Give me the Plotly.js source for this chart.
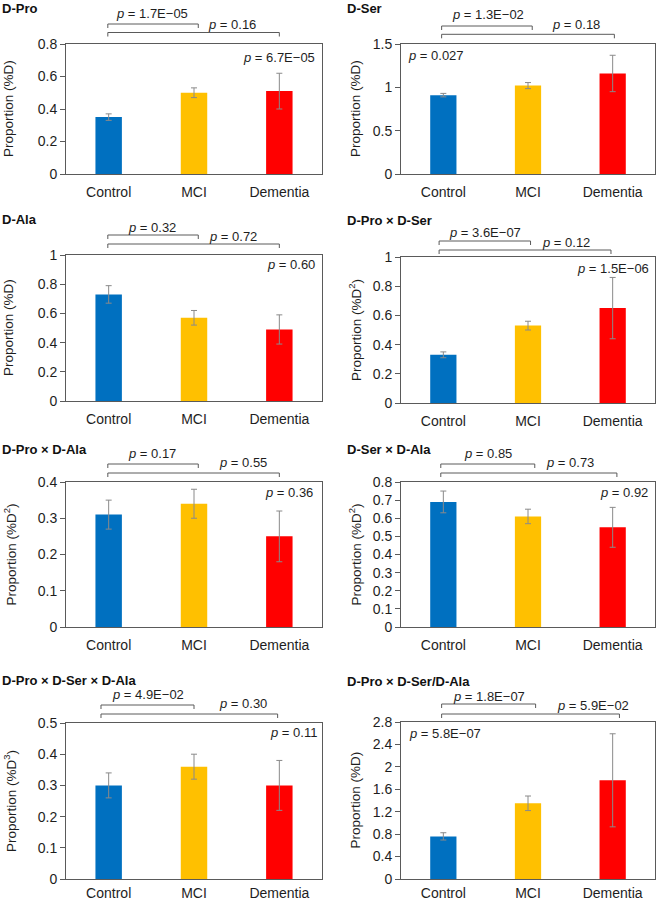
<!DOCTYPE html>
<html><head><meta charset="utf-8">
<script src="https://cdn.plot.ly/plotly-3.0.1.min.js"></script>
<style>html,body{margin:0;padding:0;background:#fff}#chart{width:658px;height:902px}</style>
</head><body><div id="chart"></div>
<script>
// ---------- data ----------
const categories = ['Control', 'MCI', 'Dementia'];
const panelNames = ['D-Pro', 'D-Ser', 'D-Ala', 'D-Pro × D-Ser', 'D-Pro × D-Ala', 'D-Ser × D-Ala', 'D-Pro × D-Ser × D-Ala', 'D-Pro × D-Ser/D-Ala'];
const yLabels = ['Proportion (%D)', 'Proportion (%D)', 'Proportion (%D)', 'Proportion (%D<sup>2</sup>)',
                 'Proportion (%D<sup>2</sup>)', 'Proportion (%D<sup>2</sup>)', 'Proportion (%D<sup>3</sup>)', 'Proportion (%D)'];

const dPro = [0.35, 0.50, 0.51];            const dProErr = [0.02, 0.03, 0.11];
const dSer = [0.91, 1.02, 1.16];            const dSerErr = [0.02, 0.035, 0.21];
const dAla = [0.73, 0.57, 0.49];            const dAlaErr = [0.06, 0.05, 0.10];
const proSer = [0.33, 0.53, 0.65];          const proSerErr = [0.02, 0.03, 0.21];
const proAla = [0.31, 0.34, 0.25];          const proAlaErr = [0.04, 0.04, 0.07];
const serAla = [0.69, 0.61, 0.55];          const serAlaErr = [0.06, 0.04, 0.11];
const proSerAla = [0.30, 0.36, 0.30];       const proSerAlaErr = [0.04, 0.04, 0.08];
const proSerDivAla = [0.76, 1.35, 1.76];    const proSerDivAlaErr = [0.065, 0.13, 0.83];

const pControlMci      = ['1.7E−05', '1.3E−02', '0.32', '3.6E−07', '0.17', '0.85', '4.9E−02', '1.8E−07'];
const pControlDementia = ['0.16', '0.18', '0.72', '0.12', '0.55', '0.73', '0.30', '5.9E−02'];
const pOverall         = ['6.7E−05', '0.027', '0.60', '1.5E−06', '0.36', '0.92', '0.11', '5.8E−07'];

const seriesMeans = [dPro, dSer, dAla, proSer, proAla, serAla, proSerAla, proSerDivAla];
const seriesErrs  = [dProErr, dSerErr, dAlaErr, proSerErr, proAlaErr, serAlaErr, proSerAlaErr, proSerDivAlaErr];

// ---------- layout / style ----------
const W = 658, H = 902;
const FONT = 'Liberation Sans, Arial, sans-serif';
const TXT = '#1e1e1e';
const LINE = '#5a5a5a';
const barColors = ['#0070C0', '#FFC000', '#FF0000'];
const axisRange = [[0, 0.8, 0.2], [0, 1.5, 0.5], [0, 1, 0.2], [0, 1, 0.2], [0, 0.4, 0.1], [0, 0.8, 0.1], [0, 0.5, 0.1], [0, 2.8, 0.4]];
const boxes = [
  {l: 66, r: 322, t: 44, b: 174},  {l: 401, r: 655, t: 44, b: 174},
  {l: 66, r: 322, t: 255, b: 401}, {l: 401, r: 655, t: 257, b: 403},
  {l: 66, r: 322, t: 482, b: 627}, {l: 401, r: 655, t: 482, b: 627},
  {l: 66, r: 322, t: 723, b: 879}, {l: 401, r: 655, t: 722, b: 879}];
const labelStandoff = [5, 5, 5, 5, 5, 5, 1, 1];
const titlePos = [[0, 8], [345, 8], [0, 219], [345, 220], [0, 449], [345, 449], [0, 680], [345, 681]];
const yTitleX = [8, 355, 8, 355, 10, 355, 10, 355];
// bracket geometry: short [x0,x1,dy], long [x0,x1,dy], t1 [x,dy], t2 [x,dy], inside [x,dy,anchor]
const geo = [
  {s: [-0.01, 1.05, -20], lg: [-0.01, 2.0, -11.5], t1: [0.51, -30], t2: [1.45, -20], ins: [2.44, 13, 'right']},
  {s: [-0.02, 1.05, -18], lg: [-0.02, 2.02, -9.7], t1: [0.53, -29], t2: [1.57, -20], ins: [-0.44, 11, 'left']},
  {s: [-0.01, 1.05, -20], lg: [-0.01, 2.0, -11], t1: [0.51, -27], t2: [1.46, -18], ins: [2.44, 10, 'right']},
  {s: [-0.05, 1.03, -16], lg: [-0.05, 1.98, -7], t1: [0.49, -25], t2: [1.45, -15], ins: [2.45, 11, 'right']},
  {s: [-0.01, 1.05, -18], lg: [-0.01, 2.0, -9], t1: [0.51, -29], t2: [1.57, -20], ins: [2.42, 11, 'right']},
  {s: [-0.03, 1.08, -18], lg: [-0.03, 2.05, -9], t1: [0.53, -29], t2: [1.50, -20], ins: [2.44, 11, 'right']},
  {s: [-0.09, 1.0, -18], lg: [-0.09, 1.98, -9], t1: [0.46, -29], t2: [1.57, -20], ins: [2.46, 9, 'right']},
  {s: [-0.02, 1.09, -18], lg: [-0.02, 2.08, -8], t1: [0.54, -26], t2: [1.77, -17], ins: [-0.43, 11, 'left']}];

const px = x => x / W;
const py = y => 1 - y / H;
const catX = (b, c) => b.l + (c + 0.5) / 3 * (b.r - b.l);

const traces = [];
const layout = {
  width: W, height: H, margin: {l: 0, r: 0, t: 0, b: 0},
  paper_bgcolor: '#fff', plot_bgcolor: '#fff', showlegend: false,
  font: {family: FONT, size: 13, color: TXT},
  annotations: [], shapes: []
};

for (let i = 0; i < 8; i++) {
  const n = i + 1, b = boxes[i], g = geo[i];
  const xa = 'x' + (n === 1 ? '' : n), ya = 'y' + (n === 1 ? '' : n);
  traces.push({
    type: 'bar', x: categories, y: seriesMeans[i], xaxis: xa, yaxis: ya, width: 0.31,
    marker: {color: barColors, line: {width: 0}},
    error_y: {type: 'data', array: seriesErrs[i], visible: true, color: '#8a8a8a', thickness: 1, width: 3},
    hoverinfo: 'skip'
  });
  layout['xaxis' + (n === 1 ? '' : n)] = {
    domain: [px(b.l), px(b.r)], anchor: ya, type: 'category', range: [-0.5, 2.5],
    showline: true, mirror: true, linecolor: LINE, linewidth: 1, ticks: '', showgrid: false,
    zeroline: false, ticklabelstandoff: labelStandoff[i], tickfont: {size: 14, color: TXT, family: FONT}, fixedrange: true
  };
  layout['yaxis' + (n === 1 ? '' : n)] = {
    domain: [py(b.b), py(b.t)], anchor: xa, range: [axisRange[i][0], axisRange[i][1]],
    tick0: 0, dtick: axisRange[i][2], ticks: 'outside', ticklen: 5, tickcolor: LINE, tickwidth: 1,
    showline: true, mirror: true, linecolor: LINE, linewidth: 1, showgrid: false, zeroline: false,
    tickfont: {size: 14, color: TXT, family: FONT}, fixedrange: true
  };
  // panel title
  layout.annotations.push({text: '<b>' + panelNames[i] + '</b>', xref: 'paper', yref: 'paper',
    x: px(titlePos[i][0]), y: py(titlePos[i][1]), xanchor: 'left', yanchor: 'middle', showarrow: false,
    font: {size: 13, color: '#111', family: FONT}});
  // y title
  layout.annotations.push({text: yLabels[i], xref: 'paper', yref: 'paper', textangle: -90,
    x: px(yTitleX[i]), y: py((b.t + b.b) / 2), xanchor: 'center', yanchor: 'middle', showarrow: false,
    font: {size: 13.5, color: TXT, family: FONT}});
  // brackets
  [g.s, g.lg].forEach(s => {
    const x0 = px(catX(b, s[0])), x1 = px(catX(b, s[1]));
    const y0 = py(b.t + s[2]), y1 = py(b.t + s[2] + 4);
    layout.shapes.push({type: 'path', xref: 'paper', yref: 'paper',
      path: `M${x0},${y1} L${x0},${y0} L${x1},${y0} L${x1},${y1}`,
      line: {color: LINE, width: 1}});
  });
  layout.annotations.push({text: '<i>p</i> = ' + pControlMci[i], xref: 'paper', yref: 'paper',
    x: px(catX(b, g.t1[0])), y: py(b.t + g.t1[1]), xanchor: 'center', yanchor: 'middle', showarrow: false,
    font: {size: 13, color: TXT, family: FONT}});
  layout.annotations.push({text: '<i>p</i> = ' + pControlDementia[i], xref: 'paper', yref: 'paper',
    x: px(catX(b, g.t2[0])), y: py(b.t + g.t2[1]), xanchor: 'center', yanchor: 'middle', showarrow: false,
    font: {size: 13, color: TXT, family: FONT}});
  layout.annotations.push({text: '<i>p</i> = ' + pOverall[i], xref: 'paper', yref: 'paper',
    x: px(catX(b, g.ins[0])), y: py(b.t + g.ins[1]), xanchor: g.ins[2], yanchor: 'middle', showarrow: false,
    font: {size: 13, color: TXT, family: FONT}});
}

Plotly.newPlot('chart', traces, layout, {staticPlot: true, displayModeBar: false});
</script>
</body></html>
